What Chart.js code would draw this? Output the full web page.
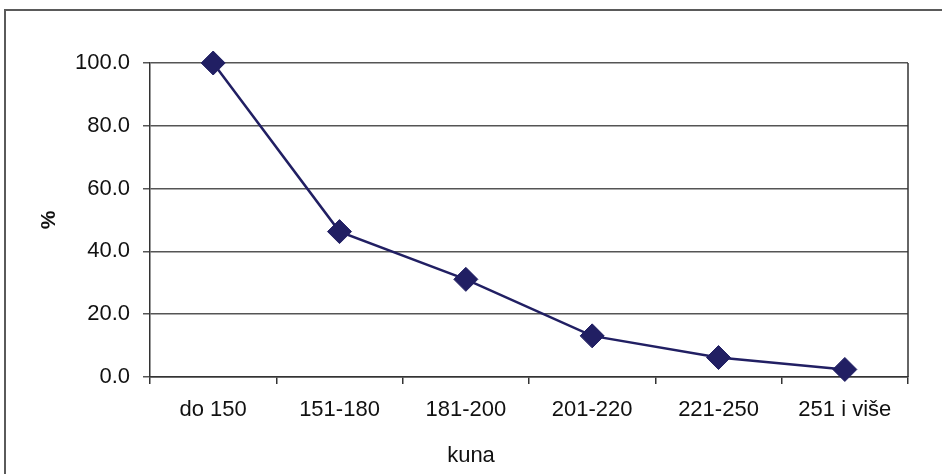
<!DOCTYPE html>
<html>
<head>
<meta charset="utf-8">
<script src="https://cdn.jsdelivr.net/npm/chart.js@4.4.1/dist/chart.umd.min.js"></script>
<style>
  html, body { margin: 0; padding: 0; background: #fff; }
  #wrap { width: 942px; height: 474px; position: relative; }
</style>
</head>
<body>
<div id="wrap"><canvas id="c" width="942" height="474"></canvas></div>
<script>
// Share of price classes (kuna), percent
const categories = ['do 150', '151-180', '181-200', '201-220', '221-250', '251 i više'];
const shares = [100.0, 46.3, 31.1, 13.1, 6.2, 2.4];
const yTicks = [0, 20, 40, 60, 80, 100];

const FONT = 'Liberation Sans, Arial, sans-serif';
const LINE = '#211F63';

// Outer frame and right border of the plot area
const framePlugin = {
  id: 'frame',
  beforeDraw(chart) {
    const ctx = chart.ctx;
    ctx.save();
    ctx.fillStyle = '#fff';
    ctx.fillRect(0, 0, chart.width, chart.height);
    ctx.strokeStyle = '#5a5a5a';
    ctx.lineWidth = 2;
    ctx.beginPath();
    ctx.moveTo(5, chart.height);
    ctx.lineTo(5, 10);
    ctx.lineTo(chart.width, 10);
    ctx.stroke();
    ctx.restore();
  },
  beforeDatasetsDraw(chart) {
    const a = chart.chartArea;
    const ctx = chart.ctx;
    ctx.save();
    ctx.strokeStyle = '#333';
    ctx.lineWidth = 1.5;
    ctx.beginPath();
    ctx.moveTo(a.right, a.top);
    ctx.lineTo(a.right, a.bottom);
    ctx.stroke();
    ctx.restore();
  }
};

new Chart(document.getElementById('c'), {
  type: 'line',
  data: {
    labels: categories,
    datasets: [{
      data: shares,
      borderColor: LINE,
      backgroundColor: LINE,
      borderWidth: 2.5,
      pointStyle: 'rectRot',
      pointRadius: 12,
      pointHoverRadius: 12,
      pointBorderWidth: 1,
      pointBorderColor: LINE,
      pointBackgroundColor: LINE,
      tension: 0,
      clip: false
    }]
  },
  options: {
    responsive: false,
    animation: false,
    devicePixelRatio: 1,
    layout: { padding: { top: 63, right: 0, left: 0, bottom: 0 } },
    plugins: {
      legend: { display: false },
      tooltip: { enabled: false },
      title: {
        display: true,
        position: 'bottom',
        text: 'kuna',
        color: '#111',
        font: { family: FONT, size: 22, weight: 'normal', lineHeight: 1.2 },
        padding: { top: 0, bottom: 5 }
      }
    },
    scales: {
      x: {
        type: 'category',
        offset: true,
        grid: {
          offset: true,
          drawOnChartArea: false,
          drawTicks: true,
          tickLength: 7,
          color: '#333',
          lineWidth: 1.5
        },
        border: { display: true, color: '#333', width: 1.5 },
        ticks: {
          color: '#111',
          padding: 13,
          maxRotation: 0,
          font: { family: FONT, size: 22 }
        },
        afterFit(s) { s.height = 65.6; }
      },
      y: {
        min: 0,
        max: 100,
        afterBuildTicks(s) { s.ticks = yTicks.map(v => ({ value: v })); },
        grid: {
          color: '#555',
          lineWidth: 1.5,
          drawTicks: true,
          tickLength: 7
        },
        border: { display: true, color: '#333', width: 1.5 },
        ticks: {
          color: '#111',
          padding: 13,
          font: { family: FONT, size: 22 },
          callback: v => Number(v).toFixed(1)
        },
        title: {
          display: true,
          text: '%',
          color: '#111',
          font: { family: FONT, size: 21, weight: 'bold', lineHeight: 1.2 },
          padding: { top: 37, bottom: 0 }
        },
        afterFit(s) { s.width = 150; }
      },
      // empty margin on the right of the plot area
      yRight: {
        position: 'right',
        min: 0,
        max: 100,
        grid: { display: false },
        border: { display: false },
        ticks: { display: false },
        afterFit(s) { s.width = 34; }
      }
    }
  },
  plugins: [framePlugin]
});
</script>
</body>
</html>
